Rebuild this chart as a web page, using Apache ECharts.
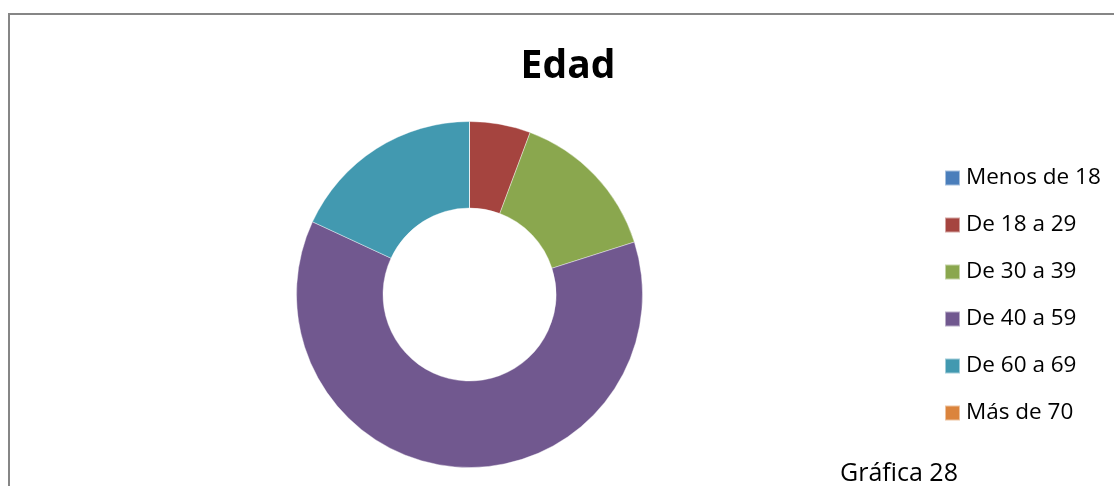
<!DOCTYPE html>
<html>
<head>
<meta charset="utf-8">
<script src="https://cdn.jsdelivr.net/npm/echarts@6/dist/echarts.min.js"></script>
<style>
  html, body { margin: 0; padding: 0; background: #fff; }
  #chart { width: 1114px; height: 486px; }
</style>
</head>
<body>
<div id="chart"></div>
<script>
// Age groups and their share of respondents (%)
const categories = ['Menos de 18', 'De 18 a 29', 'De 30 a 39', 'De 40 a 59', 'De 60 a 69', 'Más de 70'];
const shares = [0, 5.7, 14.4, 61.8, 18.1, 0];
const colors = ['#4A7EBB', '#A5443F', '#8AA74E', '#71588F', '#4299B0', '#DB843D'];
const chartTitle = 'Edad';
const caption = 'Gráfica 28';

const font = '"Open Sans", "Noto Sans", sans-serif';

const chart = echarts.init(document.getElementById('chart'), null, { renderer: 'canvas' });

chart.setOption({
  backgroundColor: '#fff',
  animation: false,
  color: colors,
  title: {
    text: chartTitle,
    left: 563,
    textAlign: 'center',
    top: 42,
    textStyle: { fontFamily: font, fontWeight: 'bold', fontSize: 39, color: '#000' }
  },
  legend: {
    orient: 'vertical',
    left: 939,
    top: 161,
    icon: 'rect',
    itemWidth: 15,
    itemHeight: 15,
    itemGap: 23,
    selectedMode: false,
    data: categories,
    textStyle: { fontFamily: font, fontSize: 22.5, color: '#000', lineHeight: 24, padding: [0, 0, 0, 1] }
  },
  graphic: [
    {
      type: 'rect',
      shape: { x: 9, y: 14, width: 1200, height: 600 },
      style: { fill: 'none', stroke: '#868686', lineWidth: 2 },
      silent: true
    },
    {
      type: 'text',
      left: 840,
      top: 461,
      style: { text: caption, fontFamily: font, fontSize: 25, fill: '#000' }
    }
  ],
  series: [{
    type: 'pie',
    center: [469.5, 294.5],
    radius: [86.5, 173],
    startAngle: 90,
    clockwise: true,
    label: { show: false },
    labelLine: { show: false },
    emphasis: { disabled: true },
    itemStyle: { borderColor: 'rgba(255,255,255,0.5)', borderWidth: 0.8 },
    data: categories.map((name, i) => ({ name, value: shares[i] }))
  }]
});
</script>
</body>
</html>
